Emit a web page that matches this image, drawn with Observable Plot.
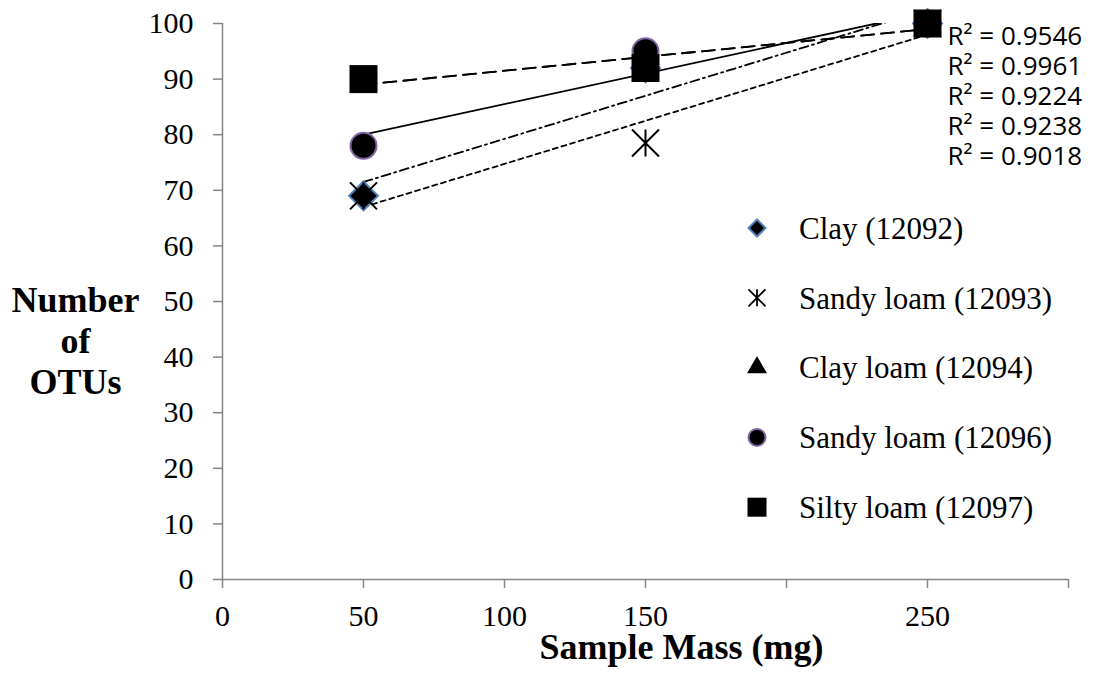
<!DOCTYPE html>
<html><head><meta charset="utf-8">
<script src="https://cdn.jsdelivr.net/npm/d3@7"></script>
<script src="https://cdn.jsdelivr.net/npm/@observablehq/plot@0.6"></script>
<style>
body{margin:0;background:#fff;}
#wrap{position:relative;width:1101px;height:682px;overflow:hidden;}
#wrap svg{position:absolute;left:0;top:0;}
</style></head><body><div id="wrap"></div>
<script>
// ---- data ----
const sampleMass = [50, 150, 250];
const clay12092 = [69, 92, 100];
const sandyLoam12093 = [69, 78.5, 100];
const clayLoam12094 = [90, 92, 100];
const sandyLoam12096 = [78, 95, 100];
const siltyLoam12097 = [90, 92, 100];
const seriesNames = ["Clay (12092)", "Sandy loam (12093)", "Clay loam (12094)", "Sandy loam (12096)", "Silty loam (12097)"];
const rSquared = ["0.9546", "0.9961", "0.9224", "0.9238", "0.9018"];
const xTicks = [0, 50, 100, 150, 200, 250, 300];
const xTickLabels = [0, 50, 100, 150, 250];
const yTicks = [0, 10, 20, 30, 40, 50, 60, 70, 80, 90, 100];

const rows = (vals) => sampleMass.map((x, i) => ({x, y: vals[i]}));
const dClay = rows(clay12092), dSandy3 = rows(sandyLoam12093), dClayLoam = rows(clayLoam12094),
      dSandy6 = rows(sandyLoam12096), dSilty = rows(siltyLoam12097);

// asterisk: an X with a vertical bar
const asteriskX = {draw(ctx, size) {
  const h = Math.sqrt(size / Math.PI);
  ctx.moveTo(-h, -h); ctx.lineTo(h, h);
  ctx.moveTo(-h, h); ctx.lineTo(h, -h);
  ctx.moveTo(0, -h); ctx.lineTo(0, h);
}};

const serif = "'Liberation Serif', 'Times New Roman', serif";
const gray = "#868686";
const reg = (data, dash) => Plot.linearRegressionY(data, {x: "x", y: "y", stroke: "black", strokeWidth: 1.8, strokeDasharray: dash, ci: 0, clip: true});

const plot = Plot.plot({
  width: 1101, height: 682,
  marginLeft: 222, marginRight: 33, marginTop: 23, marginBottom: 103,
  x: {domain: [0, 300], label: null},
  y: {domain: [0, 100], label: null},
  style: {fontFamily: serif, fontSize: "30px", color: "black", background: "white", overflow: "visible"},
  marks: [
    Plot.ruleY([0], {stroke: gray, strokeWidth: 1.5}),
    Plot.ruleX([0], {stroke: gray, strokeWidth: 1.5}),
    Plot.axisX({ticks: xTicks, tickFormat: d => xTickLabels.includes(d) ? String(d) : "", tickSize: 9, tickPadding: 16, stroke: gray, strokeWidth: 1.5, fill: "black", label: null, fontSize: 30}),
    Plot.axisY({ticks: yTicks, tickSize: 9, tickPadding: 20, stroke: gray, strokeWidth: 1.5, fill: "black", label: null, fontSize: 30}),
    reg(dClay, "9,4,2,4"),
    reg(dSandy3, "5,4"),
    reg(dClayLoam, "13,7"),
    reg(dSandy6, null),
    reg(dSilty, "13,7"),
    Plot.dot(dClay, {x: "x", y: "y", symbol: "diamond2", r: 13, fill: "black", stroke: "#4f81bd", strokeWidth: 2}),
    Plot.dot(dSandy3, {x: "x", y: "y", symbol: asteriskX, r: 13.5, fill: "none", stroke: "black", strokeWidth: 2}),
    Plot.dot(dClayLoam, {x: "x", y: "y", symbol: "triangle", r: 9, fill: "black"}),
    Plot.dot(dSandy6, {x: "x", y: "y", symbol: "circle", r: 13, fill: "black", stroke: "#8064a2", strokeWidth: 2}),
    Plot.dot(dSilty, {x: "x", y: "y", symbol: "square", r: 15.8, fill: "black"}),
    Plot.text([rSquared.map(v => `R² = ${v}`).join("\n")], {text: d => d, frameAnchor: "top-right", textAnchor: "start", lineAnchor: "top", dx: -121, dy: 0, lineHeight: 30 / 26, fontSize: 26, fontFamily: "'Open Sans', sans-serif", fill: "black"}),
    Plot.text(["Sample Mass (mg)"], {text: d => d, frameAnchor: "bottom", dx: 36, dy: 79, fontSize: 36, fontWeight: "bold", fill: "black"}),
    Plot.text(["Number\nof\nOTUs"], {text: d => d, frameAnchor: "left", dx: -147, dy: 38, lineHeight: 1.14, fontSize: 36, fontWeight: "bold", textAnchor: "middle", fill: "black"})
  ]
});
const wrap = document.getElementById("wrap");
wrap.appendChild(plot);

// ---- legend overlay ----
const legendSymbols = [
  {sym: d3.symbolDiamond2, size: 184, fill: "black", stroke: "#4f81bd", sw: 2},
  {sym: asteriskX, size: 227, fill: "none", stroke: "black", sw: 1.8},
  {sym: d3.symbolTriangle, size: 173, fill: "black", stroke: "none", sw: 0},
  {sym: d3.symbolCircle, size: Math.PI * 8.5 * 8.5, fill: "black", stroke: "#8064a2", sw: 2},
  {sym: d3.symbolSquare, size: 361, fill: "black", stroke: "none", sw: 0}
];
const leg = d3.create("svg").attr("width", 1101).attr("height", 682).style("pointer-events", "none");
const rowTop = 228, rowStep = 69.8, symX = 757, textX = 799;
seriesNames.forEach((name, i) => {
  const s = legendSymbols[i];
  const cy = rowTop + i * rowStep;
  leg.append("path").attr("d", d3.symbol(s.sym, s.size)()).attr("transform", `translate(${symX},${cy})`)
    .attr("fill", s.fill).attr("stroke", s.stroke).attr("stroke-width", s.sw);
  leg.append("text").attr("x", textX).attr("y", cy).attr("dy", "0.35em").attr("font-family", serif)
    .attr("font-size", 31).attr("fill", "black").text(name);
});
wrap.appendChild(leg.node());
</script>
</body></html>
